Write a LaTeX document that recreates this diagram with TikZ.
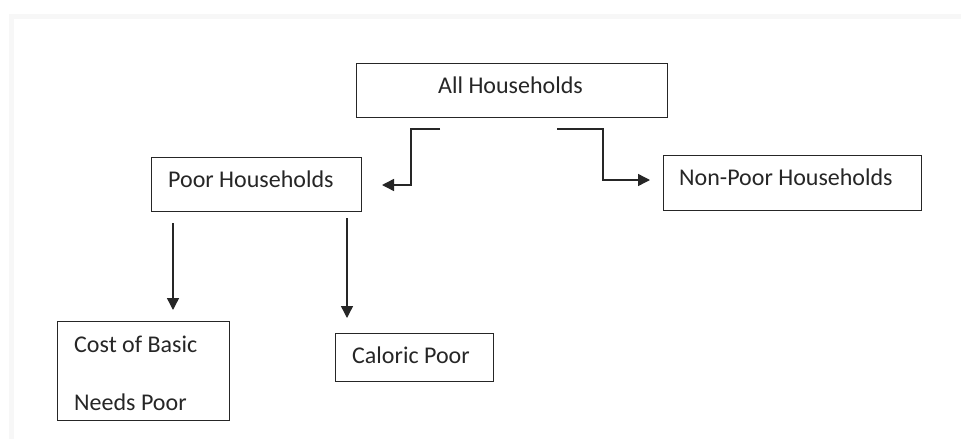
\documentclass[tikz,border=0pt]{standalone}
\usepackage{fontspec}
\setmainfont{Carlito}
\usetikzlibrary{arrows.meta}
\begin{document}
\begin{tikzpicture}[x=1pt,y=-1pt,
  boxstyle/.style={draw=black!85,line width=1.4pt,inner sep=0pt,anchor=north west},
  labelstyle/.style={inner sep=0pt,anchor=base west,font=\fontsize{24}{28}\selectfont,text=black!85},
  conn/.style={draw=black!85,line width=1.4pt,-{Triangle[length=12pt,width=12pt]}},
  faint/.style={draw=black!3,line width=5pt}]
\useasboundingbox (0,0) rectangle (961,439);
\fill[white] (0,0) rectangle (961,439);
% faint frame
\draw[faint] (11,439) -- (11,16) -- (961,16);
% boxes
\node[boxstyle,minimum width=311pt,minimum height=54pt] (allbox) at (356,63) {};
\node[boxstyle,minimum width=210pt,minimum height=54pt] (poorbox) at (151,157) {};
\node[boxstyle,minimum width=258pt,minimum height=55pt] (nonpoorbox) at (663,155) {};
\node[boxstyle,minimum width=172pt,minimum height=99pt] (cbnbox) at (57,321) {};
\node[boxstyle,minimum width=158pt,minimum height=48pt] (calbox) at (335,333) {};
% labels
\node[labelstyle] (alltext) at (438,93) {All Households};
\node[labelstyle] (poortext) at (168,187) {Poor Households};
\node[labelstyle] (nonpoortext) at (679,185) {Non-Poor Households};
\node[labelstyle] (cbntext1) at (74,352) {Cost of Basic};
\node[labelstyle] (cbntext2) at (74,410) {Needs Poor};
\node[labelstyle] (caltext) at (352,363) {Caloric Poor};
% connector coordinates
\coordinate (l0) at (440,129);
\coordinate (l1) at (382,185);
\coordinate (r0) at (557,129);
\coordinate (r1) at (650,180);
\coordinate (p0) at (173,223);
\coordinate (p1) at (173,310);
\coordinate (q0) at (347,218);
\coordinate (q1) at (347,318);
% connectors
\draw[conn] (l0) -- (411,129) -- (411,185) -- (l1);
\draw[conn] (r0) -- (603,129) -- (603,180) -- (r1);
\draw[conn] (p0) -- (p1);
\draw[conn] (q0) -- (q1);
\end{tikzpicture}
\end{document}
